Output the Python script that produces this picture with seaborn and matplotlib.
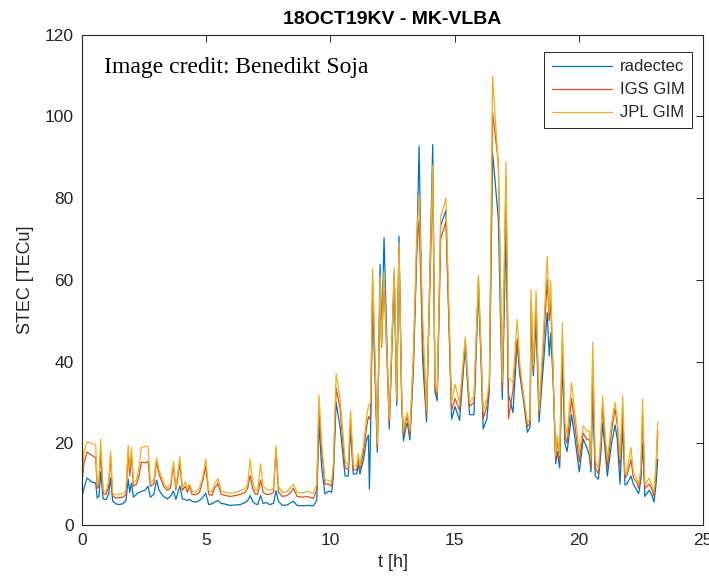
import matplotlib
matplotlib.use("Agg")
import matplotlib.pyplot as plt
import pandas as pd
import seaborn as sns

# Slant TEC along the MK-VLBA baseline, session 18OCT19KV
t_hours = [
    0.00, 0.08, 0.20, 0.40, 0.55, 0.61, 0.68, 0.75, 0.85, 0.97,
    1.07, 1.15, 1.23, 1.35, 1.50, 1.64, 1.77, 1.86, 1.92, 1.99,
    2.07, 2.19, 2.29, 2.39, 2.54, 2.66, 2.75, 2.89, 3.00, 3.10,
    3.28, 3.43, 3.56, 3.68, 3.78, 3.94, 4.04, 4.16, 4.24, 4.33,
    4.43, 4.58, 4.73, 4.87, 4.98, 5.10, 5.23, 5.33, 5.47, 5.60,
    5.78, 5.97, 6.17, 6.37, 6.57, 6.67, 6.77, 6.87, 6.97, 7.07,
    7.19, 7.29, 7.42, 7.56, 7.71, 7.81, 7.91, 8.06, 8.26, 8.41,
    8.51, 8.66, 8.86, 9.06, 9.31, 9.45, 9.54, 9.65, 9.78, 9.92,
    10.05, 10.12, 10.23, 10.39, 10.59, 10.72, 10.81, 10.92, 11.06, 11.12,
    11.19, 11.33, 11.46, 11.53, 11.57, 11.62, 11.70, 11.89, 12.00, 12.06,
    12.16, 12.37, 12.57, 12.67, 12.76, 12.87, 12.94, 13.04, 13.10, 13.20,
    13.34, 13.47, 13.57, 13.71, 13.87, 14.12, 14.21, 14.30, 14.44, 14.65,
    14.88, 15.02, 15.20, 15.43, 15.60, 15.78, 15.96, 16.06, 16.15, 16.30,
    16.40, 16.53, 16.76, 16.92, 17.07, 17.17, 17.35, 17.52, 17.62, 17.75,
    17.93, 18.04, 18.08, 18.17, 18.28, 18.40, 18.56, 18.73, 18.81, 18.87,
    18.97, 19.07, 19.13, 19.23, 19.34, 19.44, 19.53, 19.71, 19.85, 20.02,
    20.18, 20.32, 20.43, 20.49, 20.56, 20.66, 20.79, 20.88, 20.96, 21.05,
    21.15, 21.32, 21.46, 21.55, 21.66, 21.77, 21.86, 21.93, 22.10, 22.20,
    22.33, 22.41, 22.50, 22.57, 22.66, 22.83, 22.93, 23.03, 23.11, 23.18,
]

radectec = [
    7.0, 9.0, 11.5, 10.5, 10.3, 6.6, 7.0, 13.0, 6.4, 6.2,
    7.5, 11.5, 6.0, 5.2, 5.0, 5.2, 6.0, 11.2, 8.0, 10.3,
    6.8, 7.5, 8.0, 8.2, 8.5, 9.5, 6.8, 7.5, 11.0, 8.5,
    7.0, 6.4, 7.0, 8.3, 6.3, 9.6, 6.4, 6.2, 6.0, 6.3,
    5.8, 5.6, 6.0, 6.8, 7.8, 5.0, 5.2, 5.6, 6.0, 5.3,
    5.1, 4.8, 4.9, 5.0, 5.5, 6.0, 7.2, 5.8, 5.2, 5.0,
    7.2, 5.3, 5.5, 5.0, 5.3, 8.4, 5.8, 4.8, 4.9, 5.5,
    5.8, 4.8, 4.7, 4.8, 4.7, 6.0, 24.7, 14.0, 7.6, 8.3,
    8.0, 12.0, 30.0, 24.0, 12.0, 12.0, 23.5, 12.5, 12.5, 15.0,
    12.5, 16.0, 21.0, 22.0, 8.8, 24.0, 55.0, 17.8, 63.8, 45.0,
    70.3, 23.5, 61.0, 29.2, 70.7, 30.0, 20.6, 24.0, 25.0, 20.8,
    38.0, 65.0, 92.7, 40.6, 25.2, 93.1, 32.5, 30.4, 73.3, 77.0,
    25.9, 29.0, 25.6, 43.8, 27.0, 27.0, 58.0, 41.0, 23.5, 26.0,
    33.0, 91.1, 75.0, 30.8, 72.0, 32.0, 27.5, 44.7, 37.0, 31.6,
    22.7, 24.0, 52.0, 36.5, 50.0, 25.2, 38.0, 52.0, 41.4, 47.0,
    35.0, 15.0, 18.0, 14.0, 40.0, 20.0, 18.0, 27.0, 21.0, 13.0,
    21.0, 19.0, 17.0, 13.0, 32.5, 12.0, 11.2, 17.0, 25.0, 19.0,
    12.0, 20.0, 24.5, 21.0, 10.0, 24.0, 9.8, 10.0, 12.0, 10.0,
    8.5, 7.7, 11.0, 20.0, 7.0, 8.5, 7.5, 5.6, 10.0, 16.1,
]

igs_gim = [
    10.5, 15.0, 17.9, 17.0, 16.5, 9.0, 9.5, 17.6, 7.8, 7.5,
    9.5, 16.9, 7.2, 6.6, 6.7, 6.8, 7.5, 18.0, 12.0, 17.0,
    9.5, 10.0, 12.0, 15.4, 15.2, 15.6, 9.5, 10.0, 15.4, 12.5,
    9.5, 8.5, 9.0, 14.6, 8.5, 15.0, 8.5, 9.5, 8.0, 9.5,
    7.5, 7.4, 8.0, 11.0, 14.4, 7.5, 7.2, 9.0, 10.2, 7.5,
    7.2, 7.0, 7.2, 7.5, 8.0, 9.0, 12.1, 9.0, 7.6, 7.5,
    11.0, 8.0, 7.5, 7.5, 8.0, 18.6, 8.0, 7.0, 7.2, 8.0,
    9.0, 7.0, 6.8, 7.0, 6.5, 8.5, 28.5, 18.0, 10.0, 10.0,
    9.5, 14.0, 33.5, 28.5, 14.0, 13.5, 26.0, 13.5, 13.5, 16.0,
    13.5, 18.0, 24.0, 26.5, 26.0, 27.0, 60.0, 19.0, 60.0, 43.5,
    60.0, 25.0, 62.0, 30.0, 68.0, 31.0, 22.0, 25.5, 26.5, 22.0,
    40.0, 67.0, 74.6, 45.0, 27.0, 85.0, 33.5, 31.5, 70.0, 74.2,
    28.0, 31.0, 28.0, 45.0, 29.0, 30.0, 60.0, 42.6, 26.0, 29.0,
    34.0, 100.9, 88.9, 33.0, 85.0, 26.0, 33.0, 45.5, 38.0, 32.5,
    24.0, 25.0, 55.0, 37.5, 55.0, 27.0, 42.0, 60.0, 50.0, 55.0,
    36.0, 16.0, 21.0, 15.5, 45.0, 22.0, 20.0, 31.0, 24.0, 15.5,
    22.5, 21.0, 21.0, 14.0, 40.0, 14.0, 12.5, 19.0, 29.0, 21.0,
    14.0, 23.0, 28.5, 24.5, 14.0, 28.0, 11.5, 12.0, 16.0, 11.5,
    10.5, 9.0, 12.5, 27.0, 9.0, 10.0, 9.0, 7.0, 13.0, 23.0,
]

jpl_gim = [
    12.0, 18.0, 20.3, 20.0, 19.5, 10.0, 11.0, 21.0, 8.5, 8.2,
    10.5, 18.0, 7.8, 7.4, 7.5, 7.6, 8.5, 19.5, 14.0, 19.0,
    10.5, 11.0, 14.0, 19.0, 19.2, 19.3, 10.5, 11.0, 16.4, 13.5,
    10.5, 9.0, 10.0, 15.5, 9.2, 16.7, 9.2, 10.5, 9.0, 10.0,
    8.3, 8.0, 9.0, 12.0, 16.2, 8.5, 8.0, 10.0, 11.4, 8.4,
    8.0, 7.8, 8.0, 8.4, 9.0, 10.0, 16.1, 10.5, 8.6, 8.4,
    15.0, 9.5, 8.8, 8.5, 9.0, 19.4, 9.5, 8.0, 8.2, 9.2,
    10.0, 8.0, 7.8, 8.2, 7.8, 10.0, 31.8, 20.0, 11.0, 11.0,
    10.5, 15.0, 37.0, 31.0, 16.0, 14.5, 28.0, 14.5, 14.5, 17.5,
    14.5, 19.5, 26.5, 29.0, 29.5, 30.0, 62.6, 20.0, 61.0, 44.0,
    62.0, 26.0, 63.0, 31.0, 69.0, 32.0, 23.0, 26.5, 27.5, 23.0,
    42.0, 70.0, 80.7, 52.0, 28.0, 88.0, 35.0, 32.5, 75.5, 80.0,
    30.0, 34.5, 30.0, 46.0, 30.0, 31.5, 61.0, 44.0, 28.0, 31.0,
    35.0, 109.8, 88.0, 35.0, 88.9, 36.0, 35.0, 50.3, 40.0, 33.0,
    25.0, 26.0, 57.7, 39.0, 57.3, 28.0, 45.0, 65.8, 52.0, 59.7,
    36.5, 16.9, 22.0, 17.0, 49.5, 25.0, 22.0, 34.9, 27.0, 17.8,
    24.3, 23.0, 23.0, 16.0, 44.7, 16.0, 13.7, 21.0, 31.6, 23.0,
    16.0, 25.0, 30.0, 26.0, 16.1, 31.6, 12.5, 13.0, 19.0, 12.8,
    11.5, 9.8, 14.0, 30.8, 9.8, 11.5, 10.0, 8.0, 15.0, 25.2,
]

series_names = ["radectec", "IGS GIM", "JPL GIM"]
series_colors = ["#0072BD", "#D95319", "#EDB120"]
x_ticks = [0, 5, 10, 15, 20, 25]
y_ticks = [0, 20, 40, 60, 80, 100, 120]

wide = pd.DataFrame({"t": t_hours, "radectec": radectec,
                     "IGS GIM": igs_gim, "JPL GIM": jpl_gim})
long = wide.melt(id_vars="t", var_name="source", value_name="stec")

sns.set_style("white")
plt.rcParams["font.family"] = ["Liberation Sans", "DejaVu Sans"]
axis_color = "#262626"

fig = plt.figure(figsize=(7.09, 5.84), dpi=100)
ax = fig.add_axes([0.1157, 0.101, 0.8758, 0.8396])

sns.lineplot(data=long, x="t", y="stec", hue="source", hue_order=series_names,
             palette=series_colors, estimator=None, sort=False, linewidth=0.9,
             legend=False, ax=ax)

ax.set_xlim(0, 25)
ax.set_ylim(0, 120)
ax.set_xticks(x_ticks)
ax.set_yticks(y_ticks)
ax.tick_params(direction="in", length=5, width=0.7, colors=axis_color,
               labelsize=12.5, top=True, right=True, pad=6)
for side in ax.spines.values():
    side.set_color(axis_color)
    side.set_linewidth(0.8)

ax.set_xlabel("t [h]", fontsize=13, color=axis_color, labelpad=4)
ax.set_ylabel("STEC [TECu]", fontsize=13, color=axis_color, labelpad=8)
ax.set_title("18OCT19KV - MK-VLBA", fontsize=14, fontweight="bold",
             color="black", pad=8)

ax.text(0.035, 0.922, "Image credit: Benedikt Soja", transform=ax.transAxes,
        fontsize=17, family=["Liberation Serif", "DejaVu Serif"],
        color="black", va="baseline", ha="left")

leg = ax.legend(ax.lines[:3], series_names, loc="upper right",
                bbox_to_anchor=(0.983, 0.965), borderaxespad=0,
                fontsize=12, frameon=True, fancybox=False, framealpha=1,
                handlelength=3.6, handletextpad=0.5, labelspacing=0.48,
                borderpad=0.45)
leg.get_frame().set_edgecolor(axis_color)
leg.get_frame().set_linewidth(0.7)

fig.savefig("out.png", dpi=100)
